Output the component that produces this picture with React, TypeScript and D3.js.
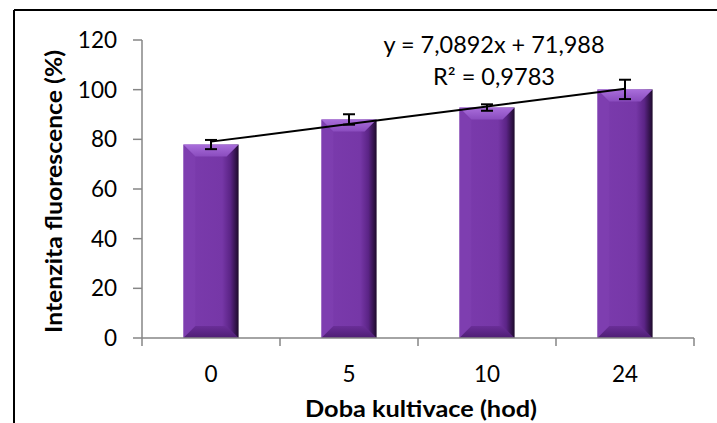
import React from 'react';
import * as d3 from 'd3';

// chart data
const categories = ['0', '5', '10', '24'];
const values = [77.9, 88.0, 92.8, 100.1];
const errors = [1.85, 2.1, 1.3, 3.9];
const yTicks = [0, 20, 40, 60, 80, 100, 120];
const slope = 7.0892;
const intercept = 71.988;
const rSquared = 0.9783;

const fmt = (v: number, digits: number) => v.toFixed(digits).replace('.', ',');

const width = 717;
const height = 423;
const margin = { top: 40, right: 23, bottom: 85, left: 142 };
const font = 'Lato, "Open Sans", sans-serif';

const App = () => {
  const x = d3.scaleBand()
    .domain(categories)
    .range([margin.left, width - margin.right])
    .paddingInner(0.6)
    .paddingOuter(0.3);

  // ticks sit between categories
  const step = x.step();
  const axisLeft = margin.left;
  const axisRight = width - margin.right;

  const y = d3.scaleLinear()
    .domain([0, 120])
    .range([height - margin.bottom, margin.top]);

  const y0 = y(0);
  const bw = x.bandwidth();
  const bev = 12;

  const trend = d3.line<number>()
    .x((_, i) => (x(categories[i]) as number) + bw / 2)
    .y((_, i) => y(slope * (i + 1) + intercept));

  return (
    <svg width={width} height={height} style={{ position: 'absolute', left: 0, top: 0, background: '#fff' }}>
      <defs>
        <linearGradient id="barBody" x1="0" x2="1" y1="0" y2="0">
          <stop offset="0%" stopColor="#7b3bad" />
          <stop offset="70%" stopColor="#7637a7" />
          <stop offset="85%" stopColor="#5b2486" />
          <stop offset="100%" stopColor="#1d0a2b" />
        </linearGradient>
        <linearGradient id="barTop" x1="0" x2="0" y1="0" y2="1">
          <stop offset="0%" stopColor="#a96edb" />
          <stop offset="100%" stopColor="#8a4cbe" />
        </linearGradient>
        <linearGradient id="barBottom" x1="0" x2="0" y1="0" y2="1">
          <stop offset="0%" stopColor="#6a2e98" />
          <stop offset="100%" stopColor="#4e1e74" />
        </linearGradient>
      </defs>

      {/* frame */}
      <line x1={14} x2={width} y1={10} y2={10} stroke="#000" strokeWidth={2} />
      <line x1={14} x2={14} y1={10} y2={height} stroke="#000" strokeWidth={2} />

      {/* y axis */}
      <line x1={axisLeft} x2={axisLeft} y1={y(120)} y2={y0} stroke="#868686" strokeWidth={1.5} />
      {yTicks.map(t => (
        <g key={t}>
          <line x1={axisLeft - 9} x2={axisLeft} y1={y(t)} y2={y(t)} stroke="#868686" strokeWidth={1.5} />
          <text x={117} y={y(t)} dy="0.36em" textAnchor="end" fontFamily={font} fontSize={22.5} fill="#000">
            {t}
          </text>
        </g>
      ))}

      {/* bars */}
      {values.map((v, i) => {
        const bx = x(categories[i]) as number;
        const by = y(v);
        const bh = y0 - by;
        return (
          <g key={i}>
            <rect x={bx} y={by} width={bw} height={bh} fill="url(#barBody)" />
            <polygon
              points={`${bx},${by} ${bx + bev},${by + bev} ${bx + bev},${y0 - bev} ${bx},${y0}`}
              fill="#8141b3" opacity={0.5}
            />
            <polygon
              points={`${bx},${y0} ${bx + bev},${y0 - bev} ${bx + bw - bev},${y0 - bev} ${bx + bw},${y0}`}
              fill="url(#barBottom)"
            />
            <polygon
              points={`${bx},${by} ${bx + bw},${by} ${bx + bw - bev},${by + bev} ${bx + bev},${by + bev}`}
              fill="url(#barTop)"
            />
          </g>
        );
      })}

      {/* x axis */}
      <line x1={axisLeft} x2={axisRight} y1={y0} y2={y0} stroke="#868686" strokeWidth={1.5} />
      {d3.range(categories.length + 1).map(k => (
        <line key={k} x1={axisLeft + k * step} x2={axisLeft + k * step} y1={y0} y2={y0 + 8}
          stroke="#868686" strokeWidth={1.5} />
      ))}
      {categories.map(c => (
        <text key={c} x={(x(c) as number) + bw / 2} y={382} textAnchor="middle" fontFamily={font} fontSize={22.5} fill="#000">
          {c}
        </text>
      ))}

      {/* trendline */}
      <path d={trend(values) || ''} fill="none" stroke="#000" strokeWidth={2} />

      {/* error bars */}
      {values.map((v, i) => {
        const cx = (x(categories[i]) as number) + bw / 2;
        return (
          <g key={i} stroke="#000" strokeWidth={2}>
            <line x1={cx} x2={cx} y1={y(v + errors[i])} y2={y(v - errors[i])} />
            <line x1={cx - 6} x2={cx + 6} y1={y(v + errors[i])} y2={y(v + errors[i])} />
            <line x1={cx - 6} x2={cx + 6} y1={y(v - errors[i])} y2={y(v - errors[i])} />
          </g>
        );
      })}

      {/* equation */}
      <text x={494} y={53} textAnchor="middle" fontFamily={font} fontSize={22.5} fill="#000"
        textLength={221} lengthAdjust="spacingAndGlyphs">
        {`y = ${fmt(slope, 4)}x + ${fmt(intercept, 3)}`}
      </text>
      <text x={494} y={85} textAnchor="middle" fontFamily={font} fontSize={22.5} fill="#000"
        textLength={122} lengthAdjust="spacingAndGlyphs">
        {`R² = ${fmt(rSquared, 4)}`}
      </text>

      {/* axis titles */}
      <text x={421} y={417} textAnchor="middle" fontFamily={font} fontSize={22.5} fontWeight="bold" fill="#000"
        textLength={232} lengthAdjust="spacingAndGlyphs">
        Doba kultivace (hod)
      </text>
      <text transform={`translate(62,191.5) rotate(-90)`} textAnchor="middle" fontFamily={font} fontSize={22.5} fontWeight="bold" fill="#000"
        textLength={283} lengthAdjust="spacingAndGlyphs">
        Intenzita fluorescence (%)
      </text>
    </svg>
  );
};

export default App;
